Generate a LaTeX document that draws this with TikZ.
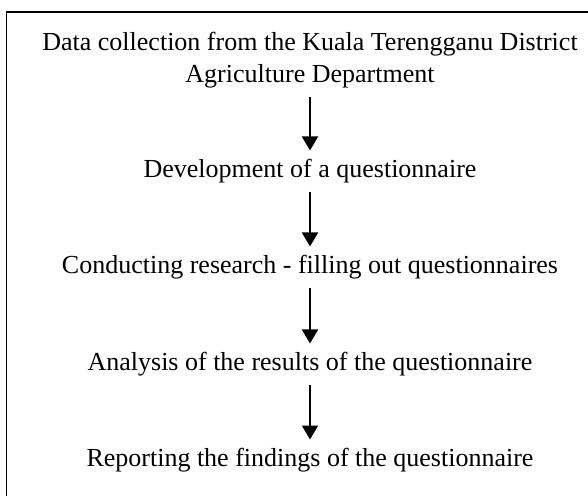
\documentclass[tikz,border=0pt]{standalone}
\usepackage{fontspec}
\setmainfont{Liberation Serif}
\usepackage{tikz}
\usetikzlibrary{arrows.meta,positioning}
\tikzset{every node/.append style={align=center}}
\tikzset{
  stage/.style={inner sep=0pt, font=\fontsize{26}{31.5}\selectfont},
  flowarrow/.style={-{Triangle[width=16pt,length=14pt]}, line width=1.8pt, shorten <=9pt, shorten >=8pt}
}

\begin{document}
\begin{tikzpicture}[x=1pt,y=-1pt]
        \useasboundingbox (0,0) rectangle (588,495);
        % Outer frame (runs off the right and bottom edge)
        \draw[line width=1.6pt] (6.5,12) rectangle (640,540);

        % Stages of the study
        \node[stage, anchor=north] (collect) at (310,32) {Data collection from the Kuala Terengganu District\\Agriculture Department};
        \node[stage, anchor=base] (develop) at (310,177) {Development of a questionnaire};
        \node[stage, anchor=base] (conduct) at (310,273) {Conducting research - filling out questionnaires};
        \node[stage, anchor=base] (analyse) at (310,370) {Analysis of the results of the questionnaire};
        \node[stage, anchor=base] (report) at (310,466) {Reporting the findings of the questionnaire};

        % Flow
        \draw[flowarrow] (collect.south) -- (develop.north);
        \draw[flowarrow] (develop.south) -- (conduct.north);
        \draw[flowarrow] (conduct.south) -- (analyse.north);
        \draw[flowarrow] (analyse.south) -- (report.north);
    \end{tikzpicture}
\end{document}
